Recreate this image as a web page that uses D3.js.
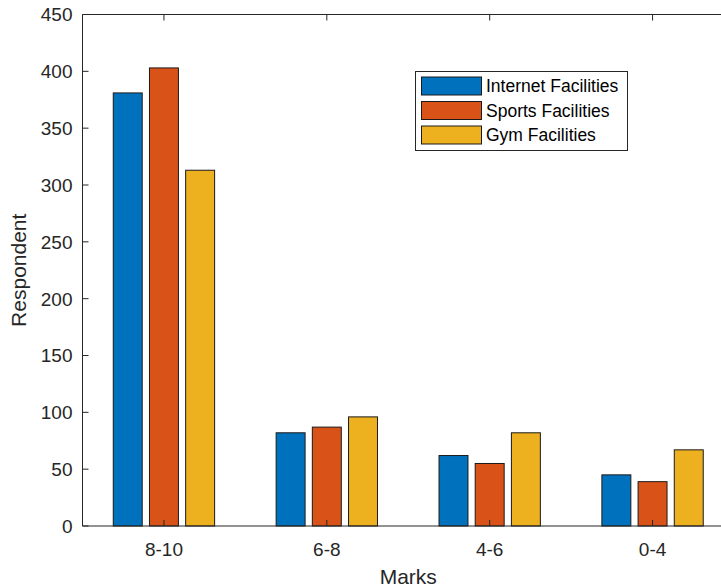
<!DOCTYPE html>
<html><head><meta charset="utf-8">
<script src="https://cdn.jsdelivr.net/npm/d3@7"></script>
<style>body{margin:0;background:#fff}svg{display:block}text{font-family:Arial,"Liberation Sans",sans-serif;fill:#262626}</style>
</head><body><svg id="c" width="721" height="587"></svg>
<script>
const categories = ["8-10","6-8","4-6","0-4"];
const seriesNames = ["Internet Facilities","Sports Facilities","Gym Facilities"];
const internet = [381, 82, 62, 45];
const sports = [403, 87, 55, 39];
const gym = [313, 96, 82, 67];
const colors = ["#0072BD","#D95319","#EDB120"];
const yTicks = [0,50,100,150,200,250,300,350,400,450];
const series = [internet, sports, gym];

const svg = d3.select("#c");
const L = 82.5, R = 734, T = 14.5, B = 526;
const x = d3.scaleLinear().domain([0.5, 4.5]).range([L, R]);
const y = d3.scaleLinear().domain([0, 450]).range([B, T]);
const spacing = x(2) - x(1);
const slot = spacing * (2/3) / 3;
const bw = slot * 0.8;

series.forEach((vals, s) => {
  svg.append("g").selectAll("rect").data(vals).join("rect")
    .attr("x", (d,i) => x(i+1) + (s-1)*slot - bw/2)
    .attr("y", d => y(d))
    .attr("width", bw)
    .attr("height", d => y(0) - y(d))
    .attr("fill", colors[s])
    .attr("stroke", "#1a1a1a").attr("stroke-width", 1);
});

// axes box
const ax = svg.append("g").attr("stroke", "#262626").attr("fill", "none");
ax.append("path").attr("d", `M${L},${T}H${R}V${B}H${L}Z`).attr("stroke-width", 1);
ax.selectAll(".yt").data(yTicks).join("path")
  .attr("d", d => `M${L},${y(d)}h6`);
ax.selectAll(".xt").data(categories).join("path")
  .attr("d", (d,i) => `M${x(i+1)},${B}v-6M${x(i+1)},${T}v6`);

svg.append("g").selectAll("text").data(yTicks).join("text")
  .attr("x", L - 10).attr("y", d => y(d)).attr("dy", "0.36em")
  .attr("text-anchor", "end").attr("font-size", 19).text(d => d);
svg.append("g").selectAll("text").data(categories).join("text")
  .attr("x", (d,i) => x(i+1)).attr("y", B + 30)
  .attr("text-anchor", "middle").attr("font-size", 19).text(d => d);

svg.append("text").attr("x", (L+R)/2).attr("y", 584).attr("text-anchor","middle")
  .attr("font-size", 21).text("Marks");
svg.append("text").attr("transform", `translate(26,${(T+B)/2}) rotate(-90)`)
  .attr("text-anchor","middle").attr("font-size", 21).text("Respondent");

// legend
const lg = svg.append("g");
lg.append("rect").attr("x", 415.5).attr("y", 71.5).attr("width", 212).attr("height", 79)
  .attr("fill", "#fff").attr("stroke", "#262626");
seriesNames.forEach((n, i) => {
  const cy = 86 + i*24.5;
  lg.append("rect").attr("x", 421.5).attr("y", cy - 9).attr("width", 60).attr("height", 18)
    .attr("fill", colors[i]).attr("stroke", "#1a1a1a");
  lg.append("text").attr("x", 486).attr("y", cy).attr("dy", "0.36em")
    .attr("font-size", 17.5).style("fill","#000").text(n);
});
</script></body></html>
